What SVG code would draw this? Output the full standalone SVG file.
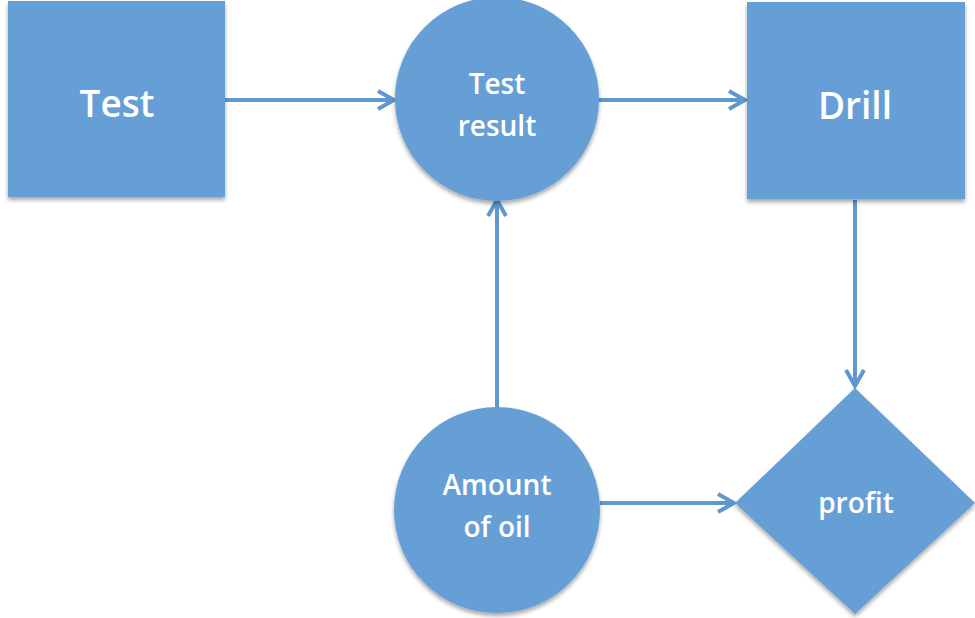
<svg xmlns="http://www.w3.org/2000/svg" width="975" height="618" viewBox="0 0 975 618">
  <style>
    .shape { fill: #669fd6; filter: url(#shadow); }
    .label { fill: #ffffff; font-family: "Open Sans", "Liberation Sans", sans-serif; font-weight: 600; text-anchor: middle; }
    .big { font-size: 37px; }
    .small { font-size: 28px; }
    .conn { stroke: #5f97cf; stroke-width: 4; fill: none; marker-end: url(#chev); }
  </style>
  <defs>
    <filter id="shadow" x="-10%" y="-10%" width="120%" height="125%">
      <feGaussianBlur in="SourceAlpha" stdDeviation="2"/>
      <feOffset dx="0" dy="3" result="b"/>
      <feComponentTransfer><feFuncA type="linear" slope="0.35"/></feComponentTransfer>
      <feMerge><feMergeNode/><feMergeNode in="SourceGraphic"/></feMerge>
    </filter>
    <marker id="chev" viewBox="0 0 12 12" refX="10" refY="6" markerWidth="6" markerHeight="6" orient="auto" markerUnits="strokeWidth">
      <path d="M2,1.5 L10,6 L2,10.5" fill="none" stroke="#5f97cf" stroke-width="2"/>
    </marker>
  </defs>
  <rect width="975" height="618" fill="#ffffff"/>

  <g id="connectors">
    <line class="conn" x1="225" y1="100" x2="394" y2="100"/>
    <line class="conn" x1="599" y1="100" x2="745" y2="100"/>
    <line class="conn" x1="855" y1="200" x2="855" y2="386"/>
    <line class="conn" x1="497" y1="408" x2="497" y2="200"/>
    <line class="conn" x1="600" y1="503" x2="734" y2="503"/>
  </g>

  <g id="test">
    <rect class="shape" x="8" y="1" width="217" height="196"/>
    <text class="label big" x="117" y="117">Test</text>
  </g>

  <g id="test-result">
    <circle class="shape" cx="497" cy="99" r="102"/>
    <text class="label small" x="497" y="94">Test</text>
    <text class="label small" x="497" y="136">result</text>
  </g>

  <g id="drill">
    <rect class="shape" x="747" y="2" width="218" height="197"/>
    <text class="label big" x="855" y="119">Drill</text>
  </g>

  <g id="amount-of-oil">
    <circle class="shape" cx="497" cy="510" r="103"/>
    <text class="label small" x="497" y="495">Amount</text>
    <text class="label small" x="497" y="537">of oil</text>
  </g>

  <g id="profit">
    <polygon class="shape" points="855,388 975,503 855,614 735,503"/>
    <text class="label small" x="856" y="513">profit</text>
  </g>
</svg>
